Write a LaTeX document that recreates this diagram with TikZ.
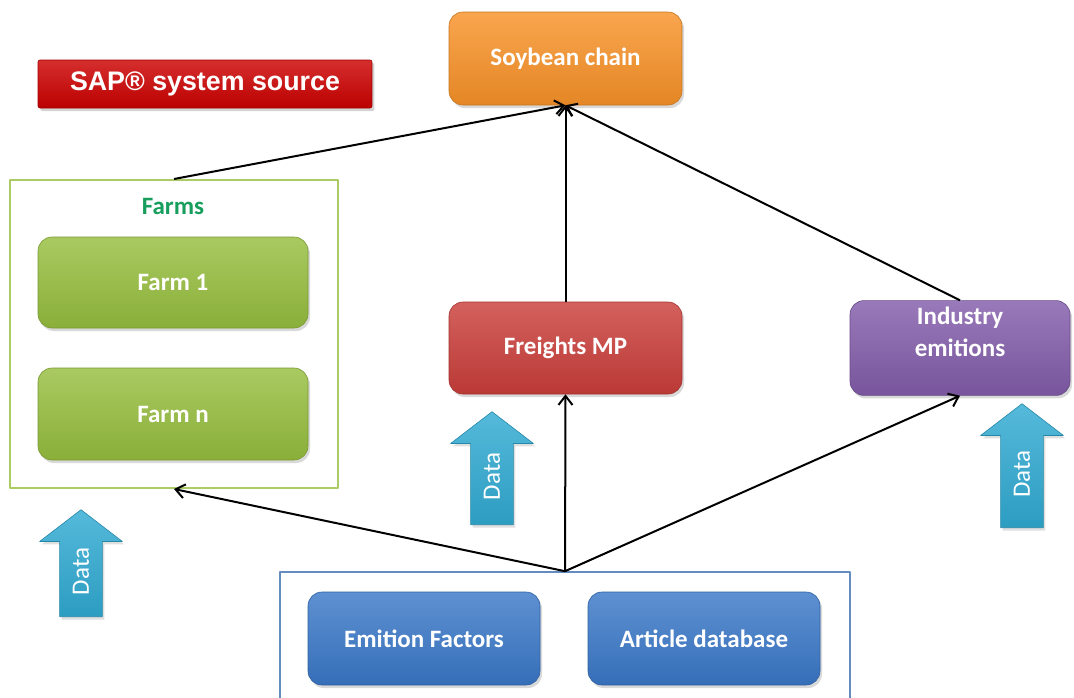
\documentclass[tikz,border=0pt]{standalone}
\usepackage{fontspec}
\setmainfont{Carlito}
\newfontfamily\sapfont{Liberation Sans}
\usetikzlibrary{arrows.meta,shapes.arrows,shadows}
\definecolor{soyorange}{RGB}{248,146,40}
\definecolor{farmgreen}{RGB}{150,190,62}
\definecolor{freightred}{RGB}{202,62,58}
\definecolor{indpurple}{RGB}{130,92,170}
\definecolor{srcblue}{RGB}{58,120,200}
\definecolor{datacyan}{RGB}{48,170,210}
\definecolor{sapred}{RGB}{204,0,0}
\definecolor{farmtext}{RGB}{24,158,92}
\definecolor{srcline}{RGB}{100,140,190}
\begin{document}
\begin{tikzpicture}[x=0.5pt,y=-0.5pt,line join=round,
  box/.style={rounded corners=7pt,text=white,align=center,
    font=\fontsize{12.5}{16}\selectfont\bfseries,
    drop shadow={opacity=0.3,shadow xshift=1pt,shadow yshift=-1.5pt}},
  shade/.style={top color=#1!82!white,bottom color=#1!92!black,draw=#1!80!black,line width=0.3pt},
  link/.style={draw=black,line width=1pt,-{Straight Barb[length=4.5pt,width=7pt]}},
  data/.style={single arrow,rotate=90,anchor=tail,single arrow head extend=10pt,
    single arrow tip angle=105,inner xsep=2pt,inner ysep=6.5pt,text=white,
    font=\fontsize{12.5}{14}\selectfont,shade=datacyan,
    drop shadow={opacity=0.25,shadow xshift=1pt,shadow yshift=-1.5pt}}]
  \useasboundingbox (0,0) rectangle (1074,697);
  % containers
  \node[draw=farmgreen!80,line width=1pt,minimum width=164pt,minimum height=154pt] (farms) at (174,334) {};
  \node[text=farmtext,font=\fontsize{12.5}{14}\selectfont\bfseries] (farmslabel) at (173,206) {Farms};
  \node[draw=srcline,line width=0.8pt,minimum width=285pt,minimum height=65pt] (source) at (565,637) {};
  \coordinate (hub) at (source.north);
  % boxes
  \node[box,shade=soyorange,minimum width=116.5pt,minimum height=46.5pt] (soy) at (565.5,58.5) {Soybean chain};
  \node[box,shade=freightred,minimum width=116.5pt,minimum height=46pt] (freight) at (565.5,348) {Freights MP};
  \node[box,shade=indpurple,minimum width=110pt,minimum height=46pt] (industry) at (960,348) {Industry\\emitions\\\mbox{}};
  \node[box,shade=farmgreen,minimum width=135pt,minimum height=45.5pt] (farm1) at (173,282.5) {Farm 1};
  \node[box,shade=farmgreen,minimum width=135pt,minimum height=46pt] (farmn) at (173,414) {Farm n};
  \node[box,shade=srcblue,minimum width=116pt,minimum height=46.5pt] (emit) at (424,638.5) {Emition Factors};
  \node[box,shade=srcblue,minimum width=116pt,minimum height=46.5pt] (article) at (704,638.5) {Article database};
  \node[shade=sapred,text=white,rounded corners=1pt,minimum width=167pt,minimum height=24pt,
    font=\sapfont\fontsize{13.4}{15}\selectfont\bfseries,
    drop shadow={opacity=0.35,shadow xshift=1.2pt,shadow yshift=-1.5pt}] (sap) at (205,84) {SAP\textregistered\ system source};
  % data inputs
  \foreach \n/\x/\y/\l in {dataL/81/617/53.5,dataM/492/525/56.5,dataR/1022/528/62}
    \node[data,minimum height=\l pt] (\n) at (\x,\y) {Data};
  % links
  \foreach \s in {farms,freight,industry} \draw[link] (\s.north) -- (soy.south);
  \foreach \t in {farms,freight,industry} \draw[link] (hub) -- (\t.south);
\end{tikzpicture}
\end{document}
